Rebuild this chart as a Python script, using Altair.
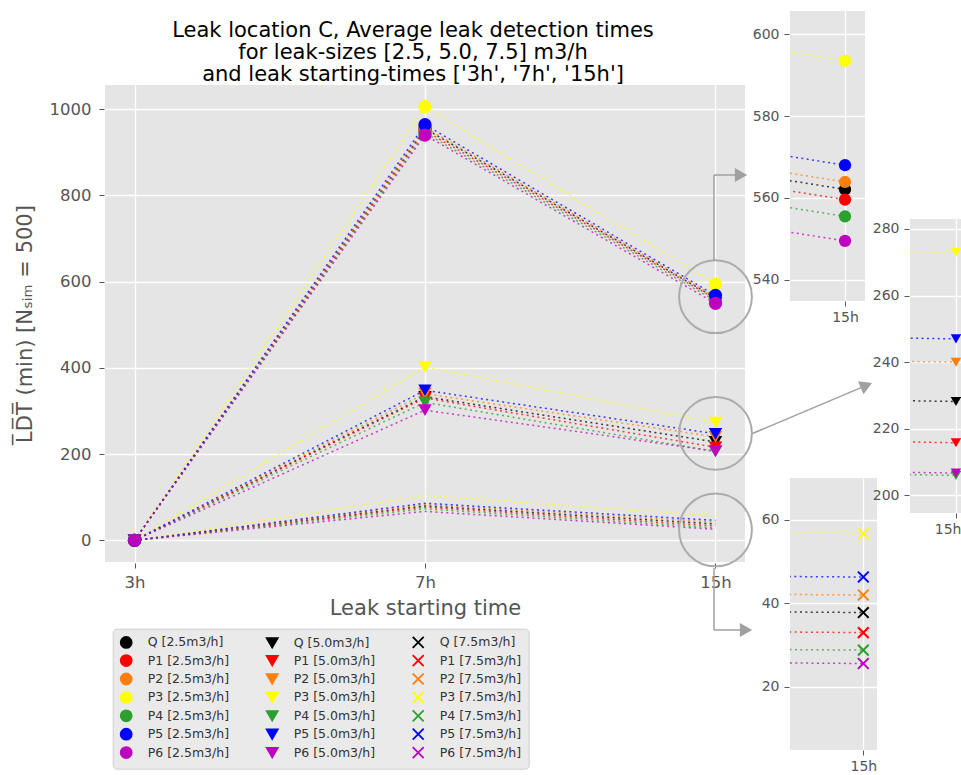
import altair as alt
import pandas as pd

# ---------------------------------------------------------------- data
start_times = ["3h", "7h", "15h"]
locations = ["Q", "P1", "P2", "P3", "P4", "P5", "P6"]
location_colors = ["#000000", "#ff0000", "#ff7f0e", "#ffff00", "#2ca02c", "#0000ff", "#bf00bf"]
leak_sizes = ["2.5", "5.0", "7.5"]

# mean leak detection time (min) per location Q, P1..P6
ldt_2p5_3h = [0, 0, 0, 0, 0, 0, 0]
ldt_2p5_7h = [955, 950, 958, 1006, 945, 964, 940]
ldt_2p5_15h = [562.1, 559.6, 563.9, 593.5, 555.5, 568.0, 549.5]

ldt_5p0_3h = [0, 0, 0, 0, 0, 0, 0]
ldt_5p0_7h = [333, 330, 340, 402, 320, 348, 302]
ldt_5p0_15h = [228.2, 215.8, 240.0, 273.0, 206.0, 247.0, 206.7]

ldt_7p5_3h = [0, 0, 0, 0, 0, 0, 0]
ldt_7p5_7h = [80, 77, 83, 104, 73, 86, 67]
ldt_7p5_15h = [37.8, 33.0, 42.0, 56.7, 28.8, 46.3, 25.6]

# centres of the zoom circles drawn around the 15h cluster of each leak size
zoom_centres = [565, 248, 24]

ldt_by_size = {
    "2.5": [ldt_2p5_3h, ldt_2p5_7h, ldt_2p5_15h],
    "5.0": [ldt_5p0_3h, ldt_5p0_7h, ldt_5p0_15h],
    "7.5": [ldt_7p5_3h, ldt_7p5_7h, ldt_7p5_15h],
}

rows = []
for size in leak_sizes:
    for li, loc in enumerate(locations):
        for ti, t in enumerate(start_times):
            rows.append({
                "label": f"{loc} [{size}m3/h]",
                "leak": size,
                "t": ti,
                "ldt": ldt_by_size[size][ti][li],
                "color": location_colors[li],
            })
df = pd.DataFrame(rows)

# ---------------------------------------------------------------- styles
FONT = "DejaVu Sans"
PANEL = "#E5E5E5"
TXT = "#555555"
CROSS = "M-1,-1L1,1M-1,1L1,-1"
marker_shape = {"2.5": "circle", "5.0": "triangle-down", "7.5": CROSS}
DOTS = [2, 3.4]
LINE_OPACITY = 0.75

# legend fills column by column: one column per leak size
legend_order = [f"{loc} [{size}m3/h]" for size in leak_sizes for loc in locations]
legend_colors = [c for size in leak_sizes for c in location_colors]
legend_shapes = [marker_shape[size] for size in leak_sizes for loc in locations]

label_expr = f"{start_times}[datum.value]"

# ---------------------------------------------------------------- main panel
MAIN_W, MAIN_H = 640, 477
x_main = alt.Scale(domain=[-0.1016, 2.1016], nice=False, zero=False)
y_main = alt.Scale(domain=[-50.3, 1056], nice=False, zero=False)

x_axis_main = alt.Axis(
    values=[0, 1, 2], labelExpr=label_expr, labelFontSize=16.5, labelColor=TXT,
    tickColor=TXT, tickSize=5, offset=1, domain=False, gridColor="white", gridWidth=1.3,
    labelPadding=6, titleFontSize=21, titleColor=TXT, titleFontWeight="normal",
    titlePadding=7,
)
y_axis_main = alt.Axis(
    values=[0, 200, 400, 600, 800, 1000], format="d", labelFontSize=16.5, labelColor=TXT,
    tickColor=TXT, tickSize=5, offset=1, domain=False, gridColor="white", gridWidth=1.3,
    labelPadding=8, titleFontSize=21, titleColor=TXT, titleFontWeight="normal",
    titlePadding=14,
)

legend = alt.Legend(
    title=None, orient="none", legendX=7.7, legendY=543.7, columns=3,
    columnPadding=33, rowPadding=-0.6, padding=7, labelFontSize=12.5,
    labelColor="#333333", labelOffset=15, symbolSize=120, symbolStrokeWidth=1.8,
    fillColor="#EAEAEA", strokeColor="#D0D0D0", cornerRadius=4, symbolOpacity=1,
)

base = alt.Chart(df).encode(
    x=alt.X("t:Q", scale=x_main, axis=x_axis_main, title="Leak starting time"),
    y=alt.Y("ldt:Q", scale=y_main, axis=y_axis_main,
            title="L\u0305D\u0305T\u0305 (min) [N\u209b\u1d62\u2098 = 500]"),
)

main_lines = base.mark_line(strokeDash=DOTS, strokeWidth=1.5, opacity=LINE_OPACITY).encode(
    color=alt.Color("color:N", scale=None),
    detail="label:N",
    order="t:Q",
)

main_points = base.mark_point(opacity=1, fillOpacity=1, strokeOpacity=1).encode(
    fill=alt.Fill("label:N", scale=alt.Scale(domain=legend_order, range=legend_colors), legend=legend),
    stroke=alt.Stroke("label:N", scale=alt.Scale(domain=legend_order, range=legend_colors), legend=legend),
    shape=alt.Shape("label:N", scale=alt.Scale(domain=legend_order, range=legend_shapes), legend=legend),
    size=alt.Size("leak:O", scale=alt.Scale(domain=leak_sizes, range=[175, 190, 170]), legend=None),
    strokeWidth=alt.StrokeWidth("leak:O", scale=alt.Scale(domain=leak_sizes, range=[0, 0, 2]), legend=None),
)

zoom_df = pd.DataFrame({"t": [2, 2, 2], "ldt": zoom_centres})
zoom_rings = alt.Chart(zoom_df).mark_point(
    shape="circle", filled=False, size=5300, color="#ababab", strokeWidth=2, opacity=1
).encode(
    x=alt.X("t:Q", scale=x_main),
    y=alt.Y("ldt:Q", scale=y_main),
)

# connector arrows from the rings to the zoomed panels (plot-area pixels)
one_row = pd.DataFrame({"k": [0]})
arrow_segments = [
    (609, 176, 609, 90), (609, 90, 636, 90),
    (647.5, 348.5, 761.4, 300.4),
    (609, 483, 609, 545), (609, 545, 641, 545),
]
arrow_heads = [(636, 90, 0), (761.4, 300.4, 337.1), (641, 545, 0)]

arrow_layers = []
for xa, ya, xb, yb in arrow_segments:
    arrow_layers.append(
        alt.Chart(one_row).mark_rule(color="#a0a0a0", strokeWidth=1.5).encode(
            x=alt.value(xa), y=alt.value(ya), x2=alt.value(xb), y2=alt.value(yb)
        )
    )
for xh, yh, ang in arrow_heads:
    arrow_layers.append(
        alt.Chart(one_row).mark_point(
            shape="triangle-right", filled=True, size=200, color="#a0a0a0", opacity=1
        ).encode(x=alt.value(xh), y=alt.value(yh), angle=alt.value(ang))
    )

main = alt.layer(main_lines, main_points, zoom_rings, *arrow_layers).properties(
    width=MAIN_W,
    height=MAIN_H,
    view=alt.ViewBackground(fill=PANEL, strokeWidth=0),
    title=alt.TitleParams(
        text=[
            "Leak location C, Average leak detection times",
            "for leak-sizes [2.5, 5.0, 7.5] m3/h",
            "and leak starting-times ['3h', '7h', '15h']",
        ],
        fontSize=21, font=FONT, fontWeight="normal", color="black",
        anchor="middle", frame="group", offset=0, lineHeight=22, dx=-12,
    ),
)


# ---------------------------------------------------------------- zoomed panels
def zoom_panel(leak, y_domain, y_ticks, x_domain, width, height, msize, flush=False):
    sub = df[df.leak == leak]
    xs = alt.Scale(domain=x_domain, nice=False, zero=False)
    ys = alt.Scale(domain=y_domain, nice=False, zero=False)
    x_extra = {"labelFlush": 10, "labelFlushOffset": 5} if flush else {}
    xa = alt.Axis(
        values=[2], labelExpr=label_expr, labelFontSize=14, labelColor=TXT,
        tickColor=TXT, tickSize=5, domain=False, gridColor="white", gridWidth=1.3,
        labelPadding=4, **x_extra,
    )
    ya = alt.Axis(
        values=y_ticks, labelFontSize=14, labelColor=TXT, tickColor=TXT, tickSize=5,
        offset=1, domain=False, gridColor="white", gridWidth=1.3, labelPadding=5,
    )
    pbase = alt.Chart(sub).encode(
        x=alt.X("t:Q", scale=xs, axis=xa, title=None),
        y=alt.Y("ldt:Q", scale=ys, axis=ya, title=None),
    )
    lines = pbase.mark_line(
        clip=True, strokeDash=DOTS, strokeWidth=1.5, opacity=LINE_OPACITY
    ).encode(color=alt.Color("color:N", scale=None), detail="label:N", order="t:Q")
    is_cross = marker_shape[leak] == CROSS
    pts = pbase.mark_point(
        clip=True, shape=marker_shape[leak], size=msize, opacity=1,
        filled=not is_cross, strokeWidth=2 if is_cross else 0,
    ).encode(color=alt.Color("color:N", scale=None))
    return alt.layer(lines, pts).properties(
        width=width, height=height, view=alt.ViewBackground(fill=PANEL, strokeWidth=0)
    )


A_W, B_W, C_W = 75, 51, 87
inset_a = zoom_panel("2.5", [534.8, 605.7], [540, 560, 580, 600], [1.99460, 2.00196], A_W, 290, 150)
inset_b = zoom_panel("5.0", [194.7, 283.0], [200, 220, 240, 260, 280], [1.99800, 2.00022], B_W, 294, 110, flush=True)
inset_c = zoom_panel("7.5", [4.9, 70.0], [20, 40, 60], [1.99700, 2.00056], C_W, 272, 115)


def spacer(width):
    return alt.Chart(pd.DataFrame({"v": [0]})).mark_point(opacity=0).encode(
        x=alt.X("v:Q", axis=None), y=alt.Y("v:Q", axis=None)
    ).properties(width=width, height=1)


indep = dict(fill="independent", stroke="independent", shape="independent",
             size="independent", strokeWidth="independent", color="independent")

# nested columns are laid out by their own width/height only (flush bounds),
# so the gaps between columns include the widths of the panels on their left
col1 = alt.vconcat(spacer(MAIN_W), main, spacing=73, bounds="flush").resolve_scale(**indep)
col2 = alt.vconcat(inset_a, inset_c, spacing=177, bounds="flush")
col3 = alt.vconcat(spacer(B_W), inset_b, spacing=207, bounds="flush")
right = alt.hconcat(col2, col3, spacing=C_W + 33, bounds="flush")

chart = (
    alt.hconcat(col1, right, spacing=MAIN_W + 45, bounds="flush")
    .resolve_scale(**indep)
    .properties(padding={"left": 14, "top": 8, "right": 0, "bottom": 0}, background="white")
    .configure_view(strokeWidth=0)
    .configure_axis(labelFont=FONT, titleFont=FONT)
    .configure_legend(labelFont=FONT)
    .configure_title(font=FONT)
)

chart.save("out.html", embed_options={"renderer": "svg", "actions": False})
